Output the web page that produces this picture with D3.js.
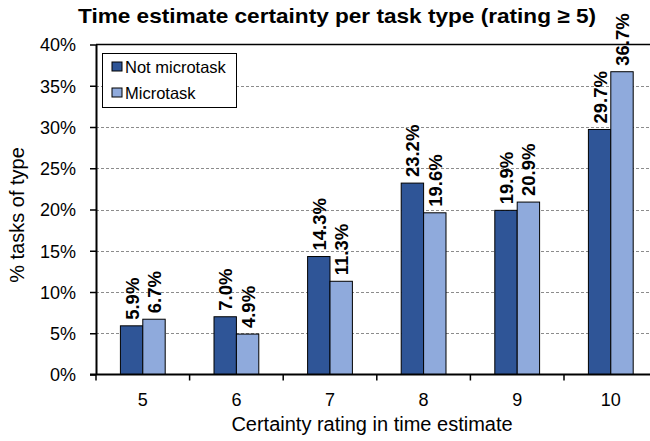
<!DOCTYPE html>
<html>
<head>
<meta charset="utf-8">
<script src="https://cdn.jsdelivr.net/npm/d3@7"></script>
<style>
  html, body { margin: 0; padding: 0; background: #fff; }
  svg, svg text { font-family: Arial, "Liberation Sans", Helvetica, sans-serif; }
  svg { display: block; }
</style>
</head>
<body>
<svg id="chart" width="650" height="441"></svg>
<script>
const categories = ["5", "6", "7", "8", "9", "10"];
const seriesNames = ["Not microtask", "Microtask"];
const notMicrotask = [5.9, 7.0, 14.3, 23.2, 19.9, 29.7];
const microtask = [6.7, 4.9, 11.3, 19.6, 20.9, 36.7];
const yTicks = [0, 5, 10, 15, 20, 25, 30, 35, 40];
const colors = ["#2F5597", "#8FAADC"];

const svg = d3.select("#chart");
const plotLeft = 96, plotTop = 44.5, plotBottom = 374.5;
const step = 93.6;
const plotRight = plotLeft + step * categories.length;

const x = d3.scaleBand().domain(categories).range([plotLeft, plotRight]).paddingInner(0).paddingOuter(0);
const x1 = d3.scaleBand().domain(seriesNames).range([0, x.bandwidth()]).paddingInner(0).paddingOuter(1.09);
const y = d3.scaleLinear().domain([0, 40]).range([plotBottom, plotTop]);

// dashed gridlines
svg.append("g").selectAll("line")
  .data(yTicks.filter(t => t > 0 && t < 40))
  .join("line")
  .attr("x1", plotLeft).attr("x2", 650)
  .attr("y1", d => Math.round(y(d)) + 0.5).attr("y2", d => Math.round(y(d)) + 0.5)
  .attr("stroke", "#8c8c8c").attr("stroke-width", 1).attr("stroke-dasharray", "3,2");

// top frame line
svg.append("line").attr("x1", plotLeft).attr("x2", 650).attr("y1", y(40)).attr("y2", y(40))
  .attr("stroke", "#000").attr("stroke-width", 1.5);

// bars
const data = categories.map((c, i) => ({ cat: c, values: [notMicrotask[i], microtask[i]] }));
const groups = svg.append("g").selectAll("g").data(data).join("g")
  .attr("transform", d => `translate(${x(d.cat)},0)`);
groups.selectAll("rect")
  .data(d => d.values.map((v, j) => ({ name: seriesNames[j], v, j })))
  .join("rect")
  .attr("x", d => x1(d.name)).attr("width", x1.bandwidth())
  .attr("y", d => y(d.v)).attr("height", d => y(0) - y(d.v))
  .attr("fill", d => colors[d.j]).attr("stroke", "#000").attr("stroke-width", 1);

// value labels
groups.selectAll("text")
  .data(d => d.values.map((v, j) => ({ name: seriesNames[j], v, j })))
  .join("text")
  .attr("transform", d => `translate(${x1(d.name) + x1.bandwidth() / 2 + 7},${y(d.v) - 6}) rotate(-90)`)
  .attr("font-size", 18.5).attr("font-weight", "bold").attr("fill", "#000")
  .text(d => d.v.toFixed(1) + "%");

// y axis
const yAxis = d3.axisLeft(y).tickValues(yTicks).tickFormat(d => d + "%").tickSize(6).tickSizeOuter(0);
const gy = svg.append("g").attr("transform", `translate(${plotLeft},0)`).call(yAxis).attr("font-family", null);
gy.select(".domain").attr("stroke", "#000").attr("stroke-width", 2);
gy.selectAll(".tick line").attr("stroke", "#000").attr("stroke-width", 1.5);
gy.selectAll(".tick text").attr("font-size", 18)
  .attr("x", -20).attr("dy", "0.35em").attr("fill", "#000");

// x axis
const gx = svg.append("g").attr("transform", `translate(0,${plotBottom})`);
gx.append("line").attr("x1", plotLeft - 6).attr("x2", 650).attr("y1", 0).attr("y2", 0)
  .attr("stroke", "#000").attr("stroke-width", 2);
gx.selectAll(".sep").data(d3.range(categories.length)).join("line").attr("class", "sep")
  .attr("x1", i => x(categories[i])).attr("x2", i => x(categories[i]))
  .attr("y1", 0).attr("y2", 6).attr("stroke", "#000").attr("stroke-width", 1.5);
gx.selectAll(".lbl").data(categories).join("text").attr("class", "lbl")
  .attr("x", d => x(d) + x.bandwidth() / 2).attr("y", 31)
  .attr("text-anchor", "middle").attr("font-size", 18).attr("fill", "#000").text(d => d);

// axis titles
svg.append("text").attr("x", 372).attr("y", 431).attr("text-anchor", "middle")
  .attr("font-size", 20).attr("fill", "#000").text("Certainty rating in time estimate");
svg.append("text").attr("transform", "translate(24,215) rotate(-90)").attr("text-anchor", "middle")
  .attr("font-size", 20).attr("fill", "#000").text("% tasks of type");

// title
svg.append("text").attr("x", 337).attr("y", 22.5).attr("text-anchor", "middle")
  .attr("font-size", 20.5).attr("font-weight", "bold").attr("fill", "#000")
  .attr("textLength", 518).attr("lengthAdjust", "spacingAndGlyphs")
  .text("Time estimate certainty per task type (rating ≥ 5)");

// legend
const lg = svg.append("g");
lg.append("rect").attr("x", 102.5).attr("y", 53.5).attr("width", 134).attr("height", 54)
  .attr("fill", "#fff").attr("stroke", "#000").attr("stroke-width", 1);
seriesNames.forEach((n, i) => {
  lg.append("rect").attr("x", 112).attr("y", 62 + i * 26).attr("width", 10).attr("height", 9)
    .attr("fill", colors[i]).attr("stroke", "#000").attr("stroke-width", 1);
  lg.append("text").attr("x", 125).attr("y", 72.5 + i * 26).attr("font-size", 16.5).attr("fill", "#000").text(n);
});
</script>
</body>
</html>
